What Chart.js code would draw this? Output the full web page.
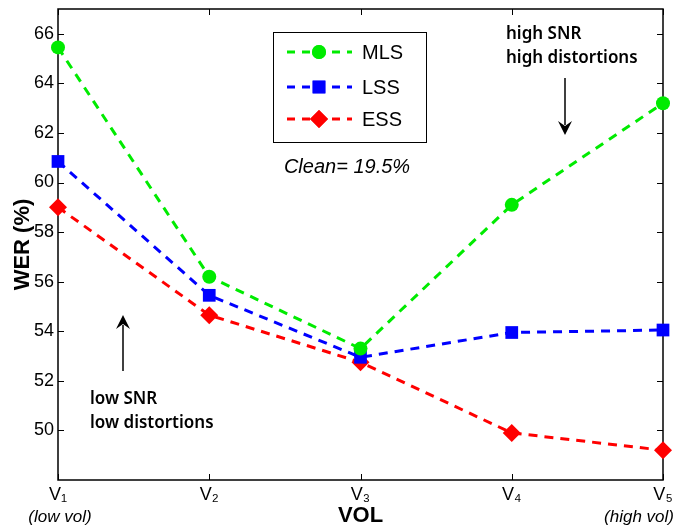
<!DOCTYPE html>
<html>
<head>
<meta charset="utf-8">
<script src="https://cdn.jsdelivr.net/npm/chart.js@4"></script>
<style>
html, body { margin: 0; padding: 0; background: #fff; }
</style>
</head>
<body>
<canvas id="myChart" width="675" height="531"></canvas>
<script>
const categories = ['V₁', 'V₂', 'V₃', 'V₄', 'V₅'];
const categoryNotes = ['(low vol)', '', '', '', '(high vol)'];
const mls = [65.45, 56.2, 53.3, 59.1, 63.2];
const lss = [60.85, 55.45, 52.95, 53.95, 54.05];
const ess = [59.0, 54.65, 52.75, 49.9, 49.2];
const yTicks = [50, 52, 54, 56, 58, 60, 62, 64, 66];

const green = 'rgb(0,235,0)';
const blue = 'rgb(0,0,255)';
const red = 'rgb(255,0,0)';
const FONT = '"Liberation Sans", Arial, sans-serif';
const NOTE_FONT = '"Noto Sans", "Open Sans", sans-serif';

let series = [
    { label: 'MLS', data: mls, color: green, pointStyle: 'circle', radius: 7 },
    { label: 'LSS', data: lss, color: blue, pointStyle: 'rect', radius: 9 },
    { label: 'ESS', data: ess, color: red, pointStyle: 'rectRot', radius: 9 }
];

// arrow with filled head
let arrow = (ctx, x, y1, y2) => {
    let dir = y2 > y1 ? 1 : -1;
    ctx.beginPath();
    ctx.moveTo(x, y1);
    ctx.lineTo(x, y2 - dir * 10);
    ctx.stroke();
    ctx.beginPath();
    ctx.moveTo(x, y2);
    ctx.lineTo(x - 7, y2 - dir * 14);
    ctx.lineTo(x, y2 - dir * 9);
    ctx.lineTo(x + 7, y2 - dir * 14);
    ctx.closePath();
    ctx.fill();
};

// keep the plot box where the reference has it
let noPad = (scale) => {
    scale.paddingLeft = 0;
    scale.paddingRight = 0;
    scale.paddingTop = 0;
    scale.paddingBottom = 0;
};

const decor = {
    id: 'decor',
    beforeDatasetsDraw(chart) {
        const { ctx, chartArea: a, scales: { x, y } } = chart;
        ctx.save();
        ctx.strokeStyle = '#000';
        ctx.lineWidth = 1.5;
        ctx.strokeRect(a.left, a.top, a.right - a.left, a.bottom - a.top);
        ctx.lineWidth = 1;
        ctx.beginPath();
        yTicks.forEach(v => {
            let py = Math.round(y.getPixelForValue(v)) + 0.5;
            ctx.moveTo(a.left, py); ctx.lineTo(a.left + 6, py);
            ctx.moveTo(a.right, py); ctx.lineTo(a.right - 6, py);
        });
        categories.forEach((c, i) => {
            let px = Math.round(x.getPixelForValue(i)) + 0.5;
            ctx.moveTo(px, a.bottom); ctx.lineTo(px, a.bottom - 6);
            ctx.moveTo(px, a.top); ctx.lineTo(px, a.top + 6);
        });
        ctx.stroke();
        ctx.restore();
    },
    afterDraw(chart) {
        const { ctx, scales: { x } } = chart;
        ctx.save();

        // legend box
        ctx.fillStyle = '#fff';
        ctx.fillRect(273, 32, 153, 110);
        ctx.strokeStyle = '#000';
        ctx.lineWidth = 1;
        ctx.strokeRect(273.5, 32.5, 153, 110);
        let rows = [52, 87, 119];
        series.forEach((s, i) => {
            let ly = rows[i];
            ctx.strokeStyle = s.color;
            ctx.lineWidth = 3;
            ctx.setLineDash([8, 7]);
            ctx.beginPath();
            ctx.moveTo(287, ly);
            ctx.lineTo(352, ly);
            ctx.stroke();
            ctx.setLineDash([]);
            ctx.fillStyle = s.color;
            Chart.helpers.drawPoint(ctx, { pointStyle: s.pointStyle, radius: s.radius, rotation: 0, borderWidth: 0 }, 319, ly);
            ctx.fill();
            ctx.fillStyle = '#000';
            ctx.font = '20px ' + FONT;
            ctx.textAlign = 'left';
            ctx.textBaseline = 'middle';
            ctx.fillText(s.label, 362, ly + 1);
        });

        ctx.fillStyle = '#000';
        ctx.font = 'italic 20px ' + FONT;
        ctx.textAlign = 'center';
        ctx.fillText('Clean= 19.5%', 347, 167);

        // annotations
        ctx.font = '600 17px ' + NOTE_FONT;
        ctx.textAlign = 'left';
        ctx.textBaseline = 'alphabetic';
        ctx.fillText('high SNR', 506, 39);
        ctx.fillText('high distortions', 506, 63);
        ctx.fillText('low SNR', 90, 404);
        ctx.fillText('low distortions', 90, 428);
        ctx.strokeStyle = '#000';
        ctx.lineWidth = 1.5;
        arrow(ctx, 565, 78, 135);
        arrow(ctx, 123, 371, 315);

        // italic notes under categories
        ctx.font = 'italic 17px ' + FONT;
        ctx.textAlign = 'center';
        ctx.textBaseline = 'middle';
        categoryNotes.forEach((n, i) => {
            if (!n) return;
            let px = x.getPixelForValue(i);
            if (i === 0) px += 2;
            if (i === categories.length - 1) px -= 24;
            ctx.fillText(n, px, 517);
        });
        ctx.restore();
    }
};

new Chart(document.getElementById('myChart'), {
    type: 'line',
    data: {
        labels: categories,
        datasets: series.map(s => ({
            label: s.label,
            data: s.data,
            borderColor: s.color,
            backgroundColor: s.color,
            borderWidth: 3,
            borderDash: [9, 7],
            pointStyle: s.pointStyle,
            pointRadius: s.radius,
            pointBorderWidth: 0,
            tension: 0,
            clip: false
        }))
    },
    options: {
        responsive: false,
        animation: false,
        layout: { padding: { top: 6, right: 12, left: 0, bottom: 0 } },
        scales: {
            x: {
                offset: false,
                grid: { display: false, drawTicks: false },
                border: { display: false },
                ticks: { color: '#000', font: { family: FONT, size: 18 }, padding: 4, maxRotation: 0 },
                title: { display: true, text: 'VOL', color: '#000', font: { family: FONT, size: 22, weight: 'bold' }, padding: { top: 0, bottom: 2 } },
                afterFit: (scale) => { scale.height = 51; noPad(scale); }
            },
            y: {
                min: 48,
                max: 67,
                grid: { display: false, drawTicks: false },
                border: { display: false },
                ticks: { color: '#000', font: { family: FONT, size: 18 }, padding: 4 },
                afterBuildTicks: (scale) => { scale.ticks = yTicks.map(v => ({ value: v })); },
                title: { display: true, text: 'WER (%)', color: '#000', font: { family: FONT, size: 22, weight: 'bold' }, padding: { top: 10, bottom: 0 } },
                afterFit: (scale) => { scale.width = 58; noPad(scale); }
            }
        },
        plugins: {
            legend: { display: false },
            tooltip: { enabled: false }
        }
    },
    plugins: [decor]
});
</script>
</body>
</html>
